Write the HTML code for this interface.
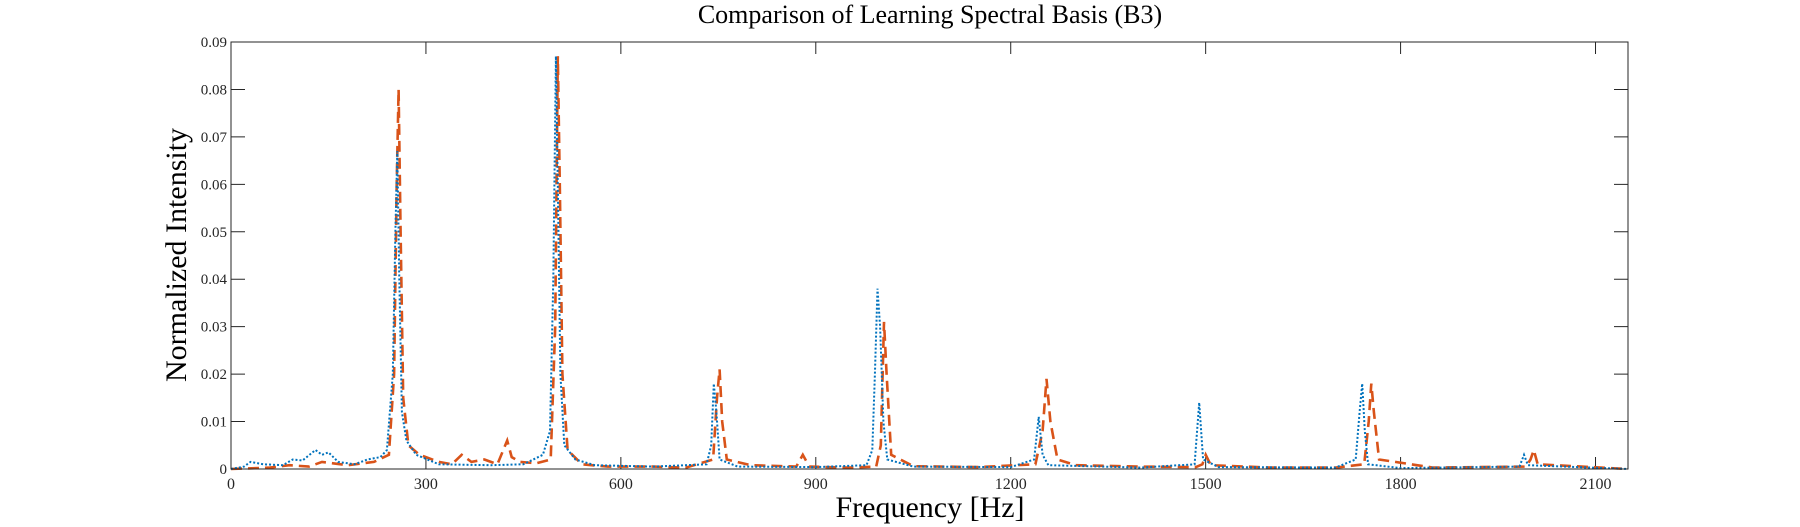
<!DOCTYPE html>
<html><head><meta charset="utf-8"><style>
html,body{margin:0;padding:0;background:#fff;}
svg{display:block;font-family:"Liberation Serif",serif;}
</style></head><body>
<svg id="chart" width="1800" height="527" viewBox="0 0 1800 527">
<text x="930" y="23" font-size="26" text-anchor="middle" fill="#000">Comparison of Learning Spectral Basis (B3)</text>
<g id="xt"></g>
<g id="yt"></g>
<g id="series"></g>
<rect x="231" y="42" width="1397" height="427" fill="none" stroke="#262626" stroke-width="1"/>
<text x="930" y="517" font-size="30" text-anchor="middle" fill="#000">Frequency [Hz]</text>
<text transform="translate(186,255) rotate(-90)" font-size="30" text-anchor="middle" fill="#000">Normalized Intensity</text>
</svg>
<script>
const xTicks=[0,300,600,900,1200,1500,1800,2100];
const yTicks=[0,0.01,0.02,0.03,0.04,0.05,0.06,0.07,0.08,0.09];
const yTickLabels=["0","0.01","0.02","0.03","0.04","0.05","0.06","0.07","0.08","0.09"];
const blueFreq=[0,20,30,50,80,95,110,130,140,150,165,190,210,230,240,249,253,256,259,263,270,285,320,400,450,480,491,496,500,503,507,513,530,560,650,732,739,743,747,752,780,900,978,987,991,995,999,1004,1010,1050,1200,1236,1243,1249,1258,1400,1483,1490,1496,1520,1700,1731,1737,1741,1745,1750,1800,1983,1990,1996,2150];
const blueVal=[0,0.0005,0.0015,0.001,0.0008,0.002,0.0018,0.004,0.003,0.0035,0.0015,0.001,0.002,0.0025,0.004,0.02,0.05,0.067,0.04,0.012,0.006,0.003,0.001,0.0008,0.001,0.003,0.008,0.04,0.087,0.06,0.02,0.005,0.002,0.0008,0.0005,0.001,0.005,0.018,0.012,0.002,0.0005,0.0004,0.0008,0.004,0.02,0.038,0.03,0.01,0.002,0.0005,0.0004,0.002,0.011,0.003,0.0008,0.0003,0.001,0.014,0.002,0.0004,0.0003,0.002,0.012,0.018,0.008,0.001,0.0002,0.0005,0.003,0.0008,0];
const orangeFreq=[0,60,90,120,140,180,220,243,251,255,258,261,265,273,290,300,320,340,355,370,390,410,425,432,445,470,492,499,503,506,510,518,540,580,650,700,742,748,752,756,763,800,870,880,890,950,993,1000,1005,1009,1016,1050,1150,1238,1249,1255,1261,1272,1300,1400,1485,1495,1500,1508,1600,1700,1744,1751,1755,1759,1767,1850,1993,2000,2005,2011,2150];
const orangeVal=[0,0.0003,0.0008,0.0005,0.0015,0.0008,0.0015,0.003,0.02,0.06,0.08,0.05,0.015,0.005,0.003,0.0025,0.0015,0.001,0.003,0.0015,0.002,0.001,0.006,0.0025,0.0015,0.0012,0.002,0.03,0.087,0.06,0.02,0.004,0.001,0.0005,0.0005,0.0003,0.002,0.015,0.021,0.01,0.002,0.0008,0.0005,0.003,0.0005,0.0003,0.0005,0.005,0.031,0.02,0.003,0.0006,0.0004,0.001,0.008,0.019,0.01,0.002,0.0008,0.0005,0.0004,0.001,0.003,0.0008,0.0003,0.0003,0.001,0.01,0.018,0.012,0.002,0.0003,0.0005,0.002,0.004,0.001,0];
const X0=231,X1=1628,Y0=469,Y1=42,XMAX=2150,YMAX=0.09;
function xs(v){return X0+(v/XMAX)*(X1-X0);}
function ys(v){return Y0-(v/YMAX)*(Y0-Y1);}
const NS="http://www.w3.org/2000/svg";
const xt=document.getElementById('xt'),yt=document.getElementById('yt'),sg=document.getElementById('series');
xTicks.forEach(t=>{
  const x=xs(t);
  const l=document.createElementNS(NS,'path');
  l.setAttribute('d',`M${x},${Y0}v-12M${x},${Y1}v12`);
  l.setAttribute('stroke','#262626');
  
  
  xt.appendChild(l);
  const tx=document.createElementNS(NS,'text');
  tx.setAttribute('x',x);tx.setAttribute('y',489);tx.setAttribute('font-size','16');tx.setAttribute('text-anchor','middle');tx.setAttribute('fill','#262626');
  tx.textContent=t;
  
  
  xt.appendChild(tx);
});
yTicks.forEach((t,i)=>{
  const y=ys(t);
  const l=document.createElementNS(NS,'path');
  l.setAttribute('d',`M${X0},${y}h14M${X1},${y}h-14`);
  l.setAttribute('stroke','#262626');
  
  
  yt.appendChild(l);
  const tx=document.createElementNS(NS,'text');
  tx.setAttribute('x',227);tx.setAttribute('y',y+5);tx.setAttribute('font-size','15');tx.setAttribute('text-anchor','end');tx.setAttribute('fill','#262626');
  tx.textContent=yTickLabels[i];
  
  
  yt.appendChild(tx);
});
function line(fr,vals,color,dash,w,name){
  const p=document.createElementNS(NS,'polyline');
  p.setAttribute('points',fr.map((f,i)=>xs(f).toFixed(1)+','+ys(vals[i]).toFixed(1)).join(' '));
  p.setAttribute('fill','none');p.setAttribute('stroke',color);p.setAttribute('stroke-width',w);p.setAttribute('stroke-dasharray',dash);
  
  
  sg.appendChild(p);
}
line(orangeFreq,orangeVal,'#D95319','11 6',2.6,'orange-dashed-series');
line(blueFreq,blueVal,'#0072BD','2 2',2,'blue-dotted-series');
</script>
</body></html>
